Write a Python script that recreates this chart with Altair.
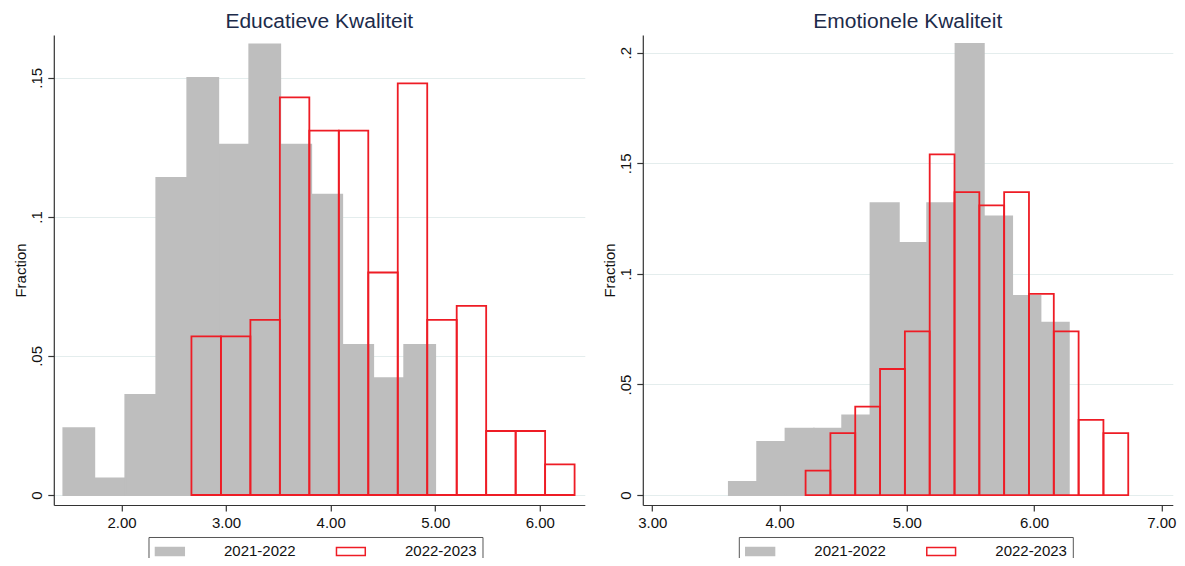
import altair as alt
import pandas as pd

years = ["2021-2022", "2022-2023"]

# Educatieve Kwaliteit
edu_2122_start = 1.444
edu_2122_width = 0.2963
edu_2122_frac = [0.024, 0.006, 0.036, 0.114, 0.150, 0.126, 0.162, 0.126, 0.108, 0.054, 0.042, 0.054]
edu_2223_start = 2.669
edu_2223_width = 0.2818
edu_2223_frac = [0.057, 0.057, 0.063, 0.143, 0.131, 0.131, 0.080, 0.148, 0.063, 0.068, 0.023, 0.023, 0.011]

# Emotionele Kwaliteit
emo_2122_start = 3.602
emo_2122_width = 0.2226
emo_2122_frac = [0.006, 0.024, 0.030, 0.030, 0.036, 0.132, 0.114, 0.132, 0.204, 0.126, 0.090, 0.078]
emo_2223_start = 4.205
emo_2223_width = 0.195
emo_2223_frac = [0.011, 0.028, 0.040, 0.057, 0.074, 0.154, 0.137, 0.131, 0.137, 0.091, 0.074, 0.034, 0.028]

edu_xticks = [2, 3, 4, 5, 6]
emo_xticks = [3, 4, 5, 6, 7]
edu_yticks = [0, 0.05, 0.1, 0.15]
emo_yticks = [0, 0.05, 0.1, 0.15, 0.2]


def hist_rows(start, width, fracs, year):
    return [
        {"year": year, "lo": start + i * width, "hi": start + (i + 1) * width, "frac": f}
        for i, f in enumerate(fracs)
    ]


FONT = "Liberation Sans"
TITLE_COLOR = "#1c2b4a"
RED = "#ee1c25"
GRAY = "#bebebe"


def panel(title, rows, xdom, xticks, ydom, yticks, legx, width):
    df = pd.DataFrame(rows)
    legend = alt.Legend(
        orient="none",
        legendX=legx,
        legendY=502,
        direction="horizontal",
        columns=2,
        title=None,
        symbolType="M-0.94,-0.5H2.66V0.5H-0.94Z",
        symbolSize=256,
        symbolStrokeWidth=1.5,
        labelOffset=52,
        columnPadding=37,
        padding=5.5,
        strokeColor="#555555",
        labelFont=FONT,
        labelFontSize=15,
        labelColor="#111111",
    )
    return (
        alt.Chart(
            df,
            title=alt.TitleParams(
                title,
                fontSize=21,
                font=FONT,
                fontWeight="normal",
                color=TITLE_COLOR,
                anchor="middle",
                frame="group",
                offset=3,
            ),
        )
        .mark_rect(strokeWidth=1.8)
        .encode(
            x=alt.X(
                "lo:Q",
                scale=alt.Scale(domain=xdom, nice=False, zero=False),
                axis=alt.Axis(values=xticks, format=".2f", title=None, grid=False),
            ),
            x2="hi:Q",
            y=alt.Y(
                "frac:Q",
                scale=alt.Scale(domain=ydom, nice=False, zero=False),
                axis=alt.Axis(
                    values=yticks,
                    labelExpr="replace(format(datum.value, '~g'), '0.', '.')",
                    title="Fraction",
                    grid=True,
                    labelAngle=270,
                    labelAlign="center",
                    labelBaseline="bottom",
                    labelPadding=3,
                    titlePadding=1.5,
                ),
            ),
            y2=alt.datum(0),
            fill=alt.Fill("year:N", scale=alt.Scale(domain=years, range=[GRAY, "transparent"]), legend=legend),
            stroke=alt.Stroke("year:N", scale=alt.Scale(domain=years, range=[GRAY, RED]), legend=legend),
        )
        .properties(width=width, height=470)
    )


left = panel(
    "Educatieve Kwaliteit",
    hist_rows(edu_2122_start, edu_2122_width, edu_2122_frac, years[0])
    + hist_rows(edu_2223_start, edu_2223_width, edu_2223_frac, years[1]),
    [1.353, 6.43], edu_xticks, [-0.0036, 0.1654], edu_yticks, 94.7, 531,
)
right = panel(
    "Emotionele Kwaliteit",
    hist_rows(emo_2122_start, emo_2122_width, emo_2122_frac, years[0])
    + hist_rows(emo_2223_start, emo_2223_width, emo_2223_frac, years[1]),
    [2.926, 7.09], emo_xticks, [-0.0045, 0.208], emo_yticks, 96, 530,
)

chart = (
    alt.hconcat(left, right, spacing=17)
    .resolve_scale(fill="independent", stroke="independent")
    .resolve_legend(fill="independent", stroke="independent")
    .properties(padding={"left": 4.8, "top": 3, "right": 0, "bottom": -8})
    .configure_view(stroke=None)
    .configure_axis(
        labelFont=FONT,
        titleFont=FONT,
        labelFontSize=15,
        titleFontSize=15,
        titleFontWeight="normal",
        labelColor="#111111",
        titleColor="#111111",
        domainColor="#333333",
        tickColor="#333333",
        domainWidth=1.2,
        tickWidth=1.2,
        tickSize=6,
        labelPadding=5,
        gridColor="#e4eded",
        gridWidth=1,
    )
)

chart.save("out.html", embed_options={"renderer": "svg", "actions": False})
